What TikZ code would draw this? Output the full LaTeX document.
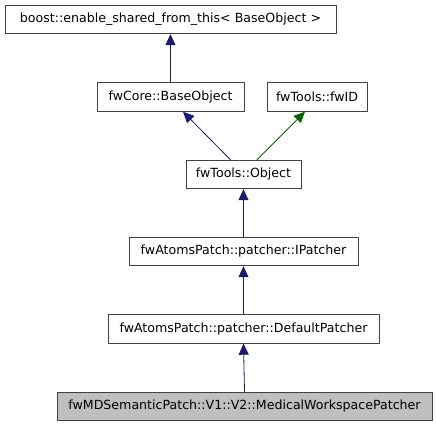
\documentclass[tikz,border=0pt]{standalone}
\usepackage{fontspec}
\setmainfont{DejaVu Sans}
\usetikzlibrary{arrows.meta}
\definecolor{edgeblue}{HTML}{191970}
\definecolor{edgegreen}{HTML}{006400}
\definecolor{boxline}{HTML}{404040}
\definecolor{boxgray}{HTML}{BFBFBF}
\tikzset{
  classbox/.style={draw=boxline, line width=0.9pt, fill=white, minimum height=28.5pt, inner sep=0pt, font=\fontsize{12.6}{14}\selectfont},
  thisbox/.style={classbox, fill=boxgray},
  inherit/.style={draw=edgeblue, line width=0.8pt, -{Triangle[length=11pt,width=10pt]}},
  inheritpub/.style={inherit, draw=edgegreen},
}
\begin{document}
\begin{tikzpicture}[x=1pt, y=-1pt, line join=round]
			\useasboundingbox (0,0) rectangle (436,427);
			\node[classbox, minimum width=331pt] (enable) at (170.5,19.5) {boost::enable\_shared\_from\_this< BaseObject >};
			\node[classbox, minimum width=147pt] (base) at (170.5,97) {fwCore::BaseObject};
			\node[classbox, minimum width=100pt] (fwid) at (317,97) {fwTools::fwID};
			\node[classbox, minimum width=115pt] (object) at (243.5,174.5) {fwTools::Object};
			\node[classbox, minimum width=229pt] (ipatcher) at (243.5,251.5) {fwAtomsPatch::patcher::IPatcher};
			\node[classbox, minimum width=271pt] (default) at (243.5,329) {fwAtomsPatch::patcher::DefaultPatcher};
			\node[thisbox, minimum width=375pt] (medical) at (244.5,406.5) {fwMDSemanticPatch::V1::V2::MedicalWorkspacePatcher};
			% inheritance edges
			\draw[inherit] (base.north) -- (enable.south);
			\draw[inherit] ([xshift=-13pt]object.north) -- ([xshift=12.5pt]base.south);
			\draw[inheritpub] ([xshift=13.5pt]object.north) -- ([xshift=-12pt]fwid.south);
			\draw[inherit] (ipatcher.north) -- (object.south);
			\draw[inherit] (default.north) -- (ipatcher.south);
			\draw[inherit] (medical.north) -- (default.south);
		\end{tikzpicture}
\end{document}
